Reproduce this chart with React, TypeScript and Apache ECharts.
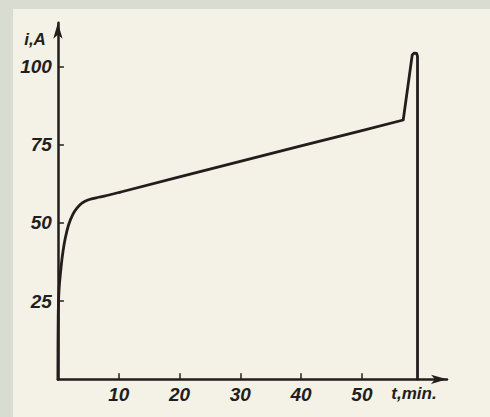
import React, { useEffect, useRef } from "react";
import * as echarts from "echarts";

// time (min) and current (A)
const curveT = [0, 0.05, 0.2, 0.56, 0.83, 1.21, 1.76, 2.42, 3.13, 3.95, 5.04, 6.68, 8.58, 10.2];
const curveI = [0, 20, 29, 36.6, 40.8, 45.1, 49.4, 52.6, 54.7, 56.3, 57.4, 58.2, 59.0, 59.8];
const lineT = [10.2, 20, 30, 40, 50, 56.8, 58.28, 58.6, 59.0, 59.15, 59.15];
const lineI = [59.8, 64.7, 69.7, 74.6, 79.5, 82.9, 103.7, 104.3, 104.2, 103.2, 0];
const xTicks = [10, 20, 30, 40, 50];
const yTicks = [25, 50, 75, 100];
const xName = "t,min.";
const yName = "i,A";

const INK = "#231e1d";
const FONT = "'Liberation Sans', Arial, sans-serif";

export default function App() {
  const ref = useRef<HTMLDivElement>(null);
  useEffect(() => {
    if (!ref.current) return;
    const chart = echarts.init(ref.current, null, { renderer: "svg" });
    const labelStyle = {
      color: INK,
      fontFamily: FONT,
      fontStyle: "italic" as const,
      fontWeight: "bold" as const,
      fontSize: 19,
    };
    chart.setOption({
      animation: false,
      backgroundColor: "transparent",
      grid: { left: 57.9, top: 22.7, right: 43, bottom: 37.7, containLabel: false },
      xAxis: {
        type: "value",
        min: 0,
        max: 64,
        interval: 10,
        splitLine: { show: false },
        axisLine: {
          lineStyle: { color: INK, width: 2.5 },
          symbol: ["none", "arrow"],
          symbolSize: [7, 16],
        },
        axisTick: { inside: true, length: 6, lineStyle: { color: INK, width: 1.5 }, customValues: xTicks },
        axisLabel: { ...labelStyle, margin: 6, customValues: xTicks },
        name: xName,
        nameLocation: "end",
        nameGap: -33,
        nameTextStyle: { ...labelStyle, fontSize: 17, align: "center", verticalAlign: "top", padding: [6, 0, 0, 0] },
      },
      yAxis: {
        type: "value",
        min: 0,
        max: 114,
        interval: 25,
        splitLine: { show: false },
        axisLine: {
          lineStyle: { color: INK, width: 2.5 },
          symbol: ["none", "arrow"],
          symbolSize: [7, 16],
        },
        axisTick: { inside: true, length: 6, lineStyle: { color: INK, width: 1.5 }, customValues: yTicks },
        axisLabel: { ...labelStyle, margin: 6, customValues: yTicks },
        name: yName,
        nameLocation: "end",
        nameGap: -17,
        nameTextStyle: { ...labelStyle, fontSize: 17, align: "right", verticalAlign: "middle", padding: [0, 12, 0, 0] },
      },
      series: [
        {
          type: "line",
          data: curveT.map((t, k) => [t, curveI[k]]),
          smooth: 0.3,
          showSymbol: false,
          lineStyle: { color: INK, width: 2.8, join: "round", cap: "round" },
        },
        {
          type: "line",
          data: lineT.map((t, k) => [t, lineI[k]]),
          showSymbol: false,
          lineStyle: { color: INK, width: 2.8, join: "round", cap: "round" },
        },
      ],
    });
    return () => chart.dispose();
  }, []);
  return (
    <div style={{ position: "fixed", left: 0, top: 0, width: 490, height: 417, background: "#d9dcd0" }}>
      <div style={{ position: "absolute", left: 13, top: 9, right: 0, bottom: 0, background: "#f4f1e6" }} />
      <div ref={ref} style={{ position: "absolute", left: 0, top: 0, width: 490, height: 417 }} />
    </div>
  );
}
